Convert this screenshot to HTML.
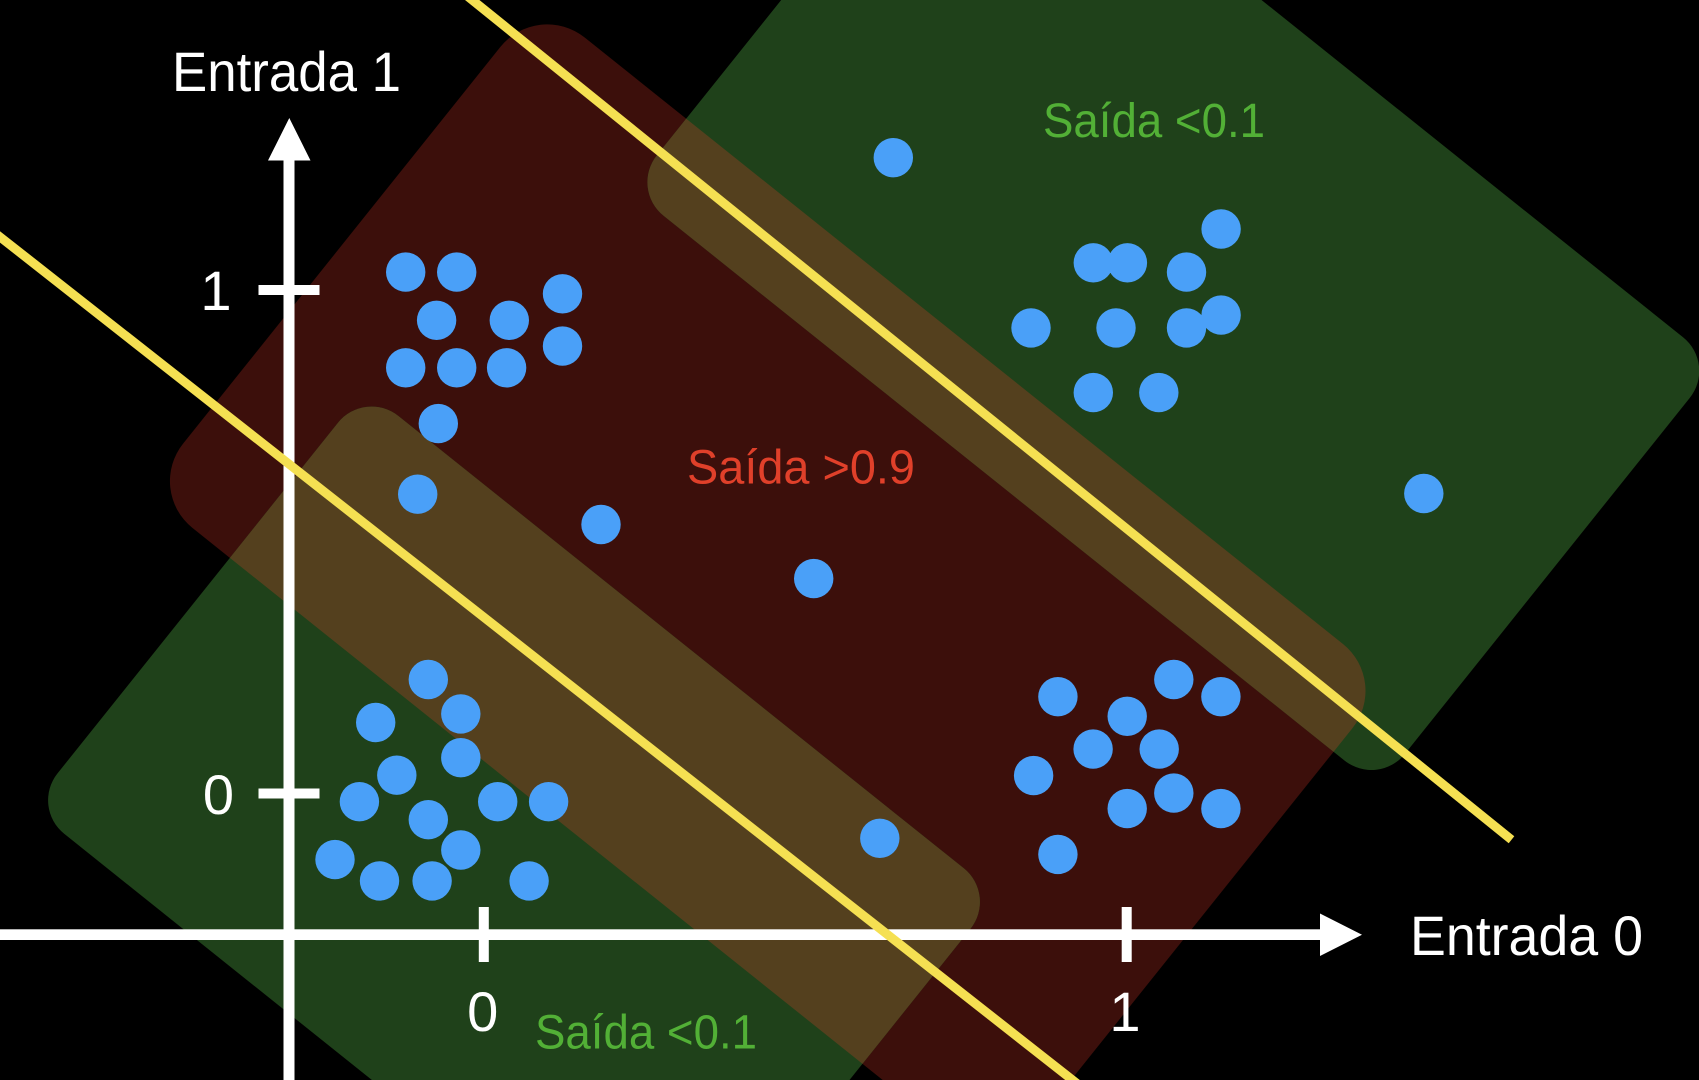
<!DOCTYPE html>
<html>
<head>
<meta charset="utf-8">
<style>
  html, body { margin: 0; padding: 0; background: #000; width: 1699px; height: 1080px; overflow: hidden; }
  svg { display: block; overflow: hidden; }
  text { font-family: "Liberation Sans", "DejaVu Sans", sans-serif; }
</style>
</head>
<body>
<svg width="1699" height="1080" viewBox="0 0 1699 1080" xmlns="http://www.w3.org/2000/svg">
  <defs>
    <clipPath id="redclip">
      <path d="M584.7,37.5 L1343,644 A60,60 0 0 1 1352.3,728.4 L1071,1080 L882.7,1080 L192.4,527.9 A60,60 0 0 1 183.1,443.6 L500.4,46.9 A60,60 0 0 1 584.7,37.5 Z"/>
    </clipPath>
  </defs>
  <rect x="0" y="0" width="1699" height="1080" fill="#000"/>

  <path fill="#3c0f0b" d="M584.7,37.5 L1343,644 A60,60 0 0 1 1352.3,728.4 L1071,1080 L882.7,1080 L192.4,527.9 A60,60 0 0 1 183.1,443.6 L500.4,46.9 A60,60 0 0 1 584.7,37.5 Z"/>
  <path fill="#1f411a" d="M781.2,0 L1261.5,0 L1683.2,337.4 A43,43 0 0 1 1689.9,397.7 L1405,753.8 A43,43 0 0 1 1344.6,760.6 L663.6,215.8 A43,43 0 0 1 656.8,155.4 Z"/>
  <path fill="#1f411a" d="M398.4,416 L963.8,868.3 A43,43 0 0 1 970.5,928.7 L849.5,1080 L371.9,1080 L64.2,833.8 A43,43 0 0 1 57.5,773.4 L338,422.7 A43,43 0 0 1 398.4,416 Z"/>
  <g clip-path="url(#redclip)" fill="#54401e">
    <path d="M781.2,0 L1261.5,0 L1683.2,337.4 A43,43 0 0 1 1689.9,397.7 L1405,753.8 A43,43 0 0 1 1344.6,760.6 L663.6,215.8 A43,43 0 0 1 656.8,155.4 Z"/>
    <path d="M398.4,416 L963.8,868.3 A43,43 0 0 1 970.5,928.7 L849.5,1080 L371.9,1080 L64.2,833.8 A43,43 0 0 1 57.5,773.4 L338,422.7 A43,43 0 0 1 398.4,416 Z"/>
  </g>

  <g fill="#fff">
    <rect x="283.5" y="155" width="11" height="925"/>
    <polygon points="289.3,118 268,160.5 310.5,160.5"/>
    <rect x="258.5" y="285" width="61" height="10"/>
    <rect x="258.5" y="788.5" width="61" height="10"/>
    <rect x="0" y="929.3" width="1325" height="10.7"/>
    <polygon points="1362,934.7 1320,913.5 1320,956"/>
    <rect x="478.8" y="907" width="10" height="55"/>
    <rect x="1121.7" y="907" width="10" height="55"/>
  </g>

  <g fill="#f5e052">
    <polygon points="465,0 479.4,0 1514.3,836.2 1508.7,843.2"/>
    <polygon points="0,231.2 1079.8,1080 1065.2,1080 0,242.6"/>
  </g>

  <path fill="none" stroke="#4aa0f8" stroke-width="39.4" stroke-linecap="round" d="M405.7,272.1h.01M456.7,272.1h.01M562.5,293.8h.01M436.6,320.3h.01M509.3,320.3h.01M562.5,346.1h.01M405.7,367.8h.01M456.7,367.8h.01M506.6,367.8h.01M438.3,423.6h.01M417.7,494.2h.01M601,524.5h.01M813.7,578.6h.01M893.3,157.7h.01M1221.1,229h.01M1093.3,262.8h.01M1127.4,262.8h.01M1186.5,272.1h.01M1031,327.9h.01M1116,327.9h.01M1186.5,327.9h.01M1221.1,315.1h.01M1093.3,392.6h.01M1158.8,392.6h.01M1423.8,493.5h.01M428.3,679.5h.01M375.7,722.5h.01M460.8,713.9h.01M460.8,757.7h.01M396.8,775.2h.01M359.4,801.7h.01M497.7,801.7h.01M548.6,801.7h.01M428.3,819.7h.01M460.8,850h.01M335,859.6h.01M379.5,880.9h.01M432.1,880.9h.01M529.1,880.9h.01M1057.9,696.7h.01M1173.8,679.5h.01M1220.9,696.7h.01M1127.2,716.3h.01M1093.1,749.1h.01M1159.2,749.1h.01M1033.6,775.6h.01M1173.8,793.1h.01M1127.2,808.6h.01M1220.9,808.6h.01M1057.9,854.4h.01M879.8,838.3h.01"/>

  <g fill="#fff" font-size="56">
    <text x="172" y="91" textLength="229" lengthAdjust="spacingAndGlyphs">Entrada 1</text>
    <text x="1410" y="955" textLength="233" lengthAdjust="spacingAndGlyphs">Entrada 0</text>
    <text x="216" y="310" text-anchor="middle">1</text>
    <text x="218.5" y="814" text-anchor="middle">0</text>
    <text x="482.7" y="1031" text-anchor="middle">0</text>
    <text x="1125" y="1031" text-anchor="middle">1</text>
  </g>
  <g font-size="48">
    <text x="687" y="483.5" fill="#e0402a" textLength="228" lengthAdjust="spacingAndGlyphs">Saída &gt;0.9</text>
    <text x="1043" y="137" fill="#52b036" textLength="222" lengthAdjust="spacingAndGlyphs">Saída &lt;0.1</text>
    <text x="535" y="1048.5" fill="#52b036" textLength="222" lengthAdjust="spacingAndGlyphs">Saída &lt;0.1</text>
  </g>
</svg>
</body>
</html>
